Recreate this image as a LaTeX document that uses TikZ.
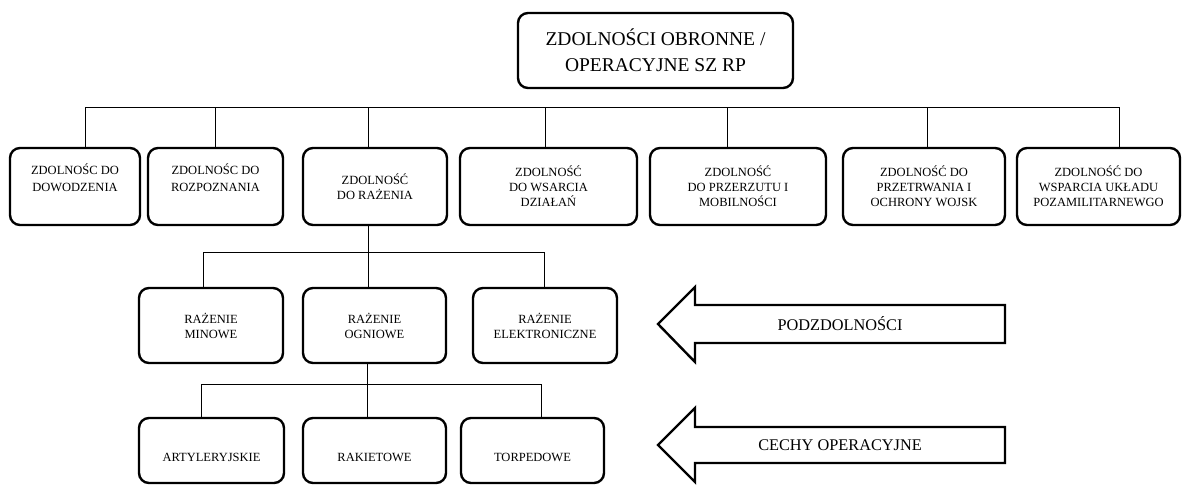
\documentclass[tikz,border=0pt]{standalone}
\usepackage{fontspec}
\setmainfont{Liberation Serif}
\begin{document}
\begin{tikzpicture}[x=1pt,y=-1pt,
  box/.style={draw,line width=2.4pt,rounded corners=10pt,align=center,inner sep=2pt,
    font=\fontsize{12.5}{15}\selectfont},
  widebox/.style={box,font=\fontsize{12.5}{17.5}\selectfont},
  lowbox/.style={box,text height=22pt,text depth=0.5pt},
  topbox/.style={box,font=\fontsize{19.5}{26}\selectfont},
  conn/.style={line width=1pt},
  bigarrow/.style={draw,line width=2.4pt,line join=miter,fill=white},
  arrowtext/.style={font=\fontsize{16.3}{19}\selectfont}]
\useasboundingbox (0,0) rectangle (1184,490);
% top
\node[topbox,minimum width=275pt,minimum height=75pt] (top) at (655.5,50.5) {ZDOLNOŚCI OBRONNE /\\OPERACYJNE SZ RP};
% level 1
\node[widebox,minimum width=130pt,minimum height=77pt] (b1) at (75,186.5) {ZDOLNOŚC DO\\DOWODZENIA\\\mbox{}};
\node[widebox,minimum width=135pt,minimum height=77pt] (b2) at (215.5,186.5) {ZDOLNOŚC DO\\ROZPOZNANIA\\\mbox{}};
\node[box,minimum width=144pt,minimum height=77pt] (b3) at (375,186.5) {ZDOLNOŚĆ\\DO RAŻENIA};
\node[box,minimum width=177pt,minimum height=77pt] (b4) at (548.5,186.5) {ZDOLNOŚĆ\\DO WSARCIA\\DZIAŁAŃ};
\node[box,minimum width=176pt,minimum height=77pt] (b5) at (738,186.5) {ZDOLNOŚĆ\\DO PRZERZUTU I\\MOBILNOŚCI};
\node[box,minimum width=162pt,minimum height=77pt] (b6) at (924,186.5) {ZDOLNOŚĆ DO\\PRZETRWANIA I\\OCHRONY WOJSK};
\node[box,minimum width=163pt,minimum height=77pt] (b7) at (1098.5,186.5) {ZDOLNOŚĆ DO\\WSPARCIA UKŁADU\\POZAMILITARNEWGO};
% bar level 1
\coordinate (t1) at (85,107);
\coordinate (t2) at (215,107);
\coordinate (t3) at (368,107);
\coordinate (t4) at (545,107);
\coordinate (t5) at (727,107);
\coordinate (t6) at (927,107);
\coordinate (t7) at (1119,107);
\draw[conn] (t1) -- (t7);
\foreach \i in {1,...,7} {\draw[conn] (t\i) -- (t\i |- b\i.north);}
% level 2
\node[box,minimum width=144pt,minimum height=75pt] (c1) at (211,325.5) {RAŻENIE\\MINOWE};
\node[box,minimum width=143pt,minimum height=75pt] (c2) at (374.5,325.5) {RAŻENIE\\OGNIOWE};
\node[box,minimum width=144pt,minimum height=75pt] (c3) at (545,325.5) {RAŻENIE\\ELEKTRONICZNE};
\coordinate (u1) at (203,252);
\coordinate (u2) at (368,252);
\coordinate (u3) at (544,252);
\draw[conn] (u1) -- (u3);
\draw[conn] (b3.south -| u2) -- (u2 |- c2.north);
\draw[conn] (u1) -- (u1 |- c1.north);
\draw[conn] (u3) -- (u3 |- c3.north);
% level 3
\node[lowbox,minimum width=145pt,minimum height=65pt] (d1) at (211.5,450.5) {ARTYLERYJSKIE};
\node[lowbox,minimum width=143pt,minimum height=65pt] (d2) at (374.5,450.5) {RAKIETOWE};
\node[lowbox,minimum width=143pt,minimum height=65pt] (d3) at (532.5,450.5) {TORPEDOWE};
\coordinate (v1) at (201,384);
\coordinate (v2) at (367,384);
\coordinate (v3) at (541,384);
\draw[conn] (v1) -- (v3);
\draw[conn] (c2.south -| v2) -- (v2 |- d2.north);
\draw[conn] (v1) -- (v1 |- d1.north);
\draw[conn] (v3) -- (v3 |- d3.north);
% arrows
\draw[bigarrow] (658,324) -- (695,287) -- (695,305) -- (1005,305) -- (1005,343) -- (695,343) -- (695,362) -- cycle;
\node[arrowtext] (a1) at (840,324) {PODZDOLNOŚCI};
\draw[bigarrow] (658,445) -- (695,408) -- (695,427) -- (1005,427) -- (1005,463) -- (695,463) -- (695,482) -- cycle;
\node[arrowtext] (a2) at (840,445) {CECHY OPERACYJNE};
\end{tikzpicture}
\end{document}
